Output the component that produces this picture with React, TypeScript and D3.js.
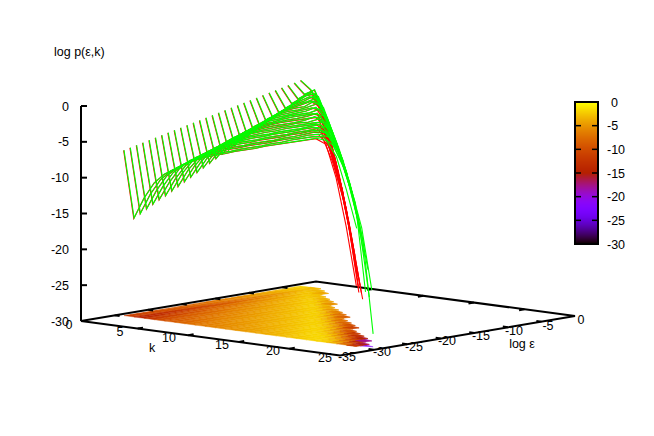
import React from "react";
import * as d3 from "d3";

const WIDTH = 654;
const HEIGHT = 436;

const logEps = [-29.5,-28.56,-27.62,-26.68,-25.74,-24.8,-23.86,-22.92,-21.98,-21.04,-20.1,-19.16,-18.22,-17.28,-16.34,-15.4,-14.46,-13.52,-12.58,-11.64,-10.7,-9.76,-8.82,-7.88,-6.94,-6,-5.06,-4.12,-3.18];

// log p for each log eps row, indexed by k = 0, 1, 2, ...
const greenRows: number[][] = [
  [-6.9,-16.2,-13.2,-10.9,-9.5,-8.6,-7.7,-7,-6.4,-5.9,-5.5,-5,-4.6,-4.2,-3.7,-3.3,-2.9,-2.5,-2.1,-1.7,-1.8,-3.9,-8.4,-13.5],
  [-6.7,-15.7,-12.8,-10.6,-9.2,-8.3,-7.4,-6.7,-6.1,-5.7,-5.3,-4.8,-4.4,-4,-3.5,-3.1,-2.6,-2.2,-1.8,-1.6,-2.6,-5.2,-9.5,-15.3,-28.2],
  [-6.5,-15.2,-12.4,-10.2,-8.9,-8,-7.2,-6.5,-5.9,-5.4,-5,-4.5,-4.1,-3.7,-3.2,-2.8,-2.4,-1.9,-1.6,-1.8,-3.9,-8.1,-13.5,-23.4],
  [-6.3,-14.7,-12,-9.9,-8.6,-7.7,-6.9,-6.2,-5.6,-5.2,-4.8,-4.3,-3.9,-3.5,-3,-2.6,-2.1,-1.6,-1.5,-3.1,-6.4,-10.8,-23],
  [-6.1,-14.2,-11.6,-9.5,-8.2,-7.4,-6.6,-5.9,-5.4,-4.9,-4.5,-4,-3.6,-3.2,-2.7,-2.3,-1.8,-1.5,-2.4,-5,-9.3,-14.4,-22.9],
  [-5.9,-13.8,-11.2,-9.2,-7.9,-7.1,-6.3,-5.7,-5.1,-4.7,-4.3,-3.8,-3.4,-3,-2.5,-2.1,-1.6,-2.1,-4.3,-8,-13,-20.4],
  [-5.7,-13.3,-10.7,-8.8,-7.6,-6.8,-6,-5.4,-4.9,-4.4,-4,-3.5,-3.1,-2.7,-2.2,-1.8,-1.7,-4,-7,-11.2,-18.7],
  [-5.5,-12.8,-10.3,-8.5,-7.3,-6.5,-5.8,-5.2,-4.6,-4.2,-3.8,-3.3,-2.9,-2.5,-2,-1.5,-2.8,-5.5,-9.4,-16.2],
  [-5.3,-12.3,-9.9,-8.1,-7,-6.2,-5.5,-4.9,-4.4,-3.9,-3.5,-3,-2.6,-2.2,-1.8,-2.1,-4.4,-8.4,-13.8],
  [-5.1,-11.8,-9.5,-7.8,-6.7,-5.9,-5.2,-4.6,-4.1,-3.7,-3.2,-2.8,-2.4,-2,-1.7,-3.3,-6.6,-11.3],
  [-4.9,-11.3,-9.1,-7.4,-6.4,-5.6,-5,-4.4,-3.9,-3.4,-3,-2.5,-2.2,-1.6,-2.8,-5.3,-9.6,-15.7],
  [-4.7,-10.8,-8.7,-7,-6,-5.3,-4.7,-4.1,-3.6,-3.2,-2.8,-2.3,-1.6,-2.2,-4.5,-8.2,-13.2],
  [-4.5,-10.3,-8.3,-6.7,-5.7,-5,-4.4,-3.8,-3.3,-2.9,-2.5,-2.1,-1.8,-3.9,-7.2,-11.5],
  [-4.3,-9.8,-7.9,-6.4,-5.4,-4.7,-4.1,-3.6,-3.1,-2.7,-2.2,-1.6,-3.1,-6.1,-9.7],
  [-4.1,-9.3,-7.5,-6,-5.1,-4.4,-3.9,-3.3,-2.8,-2.4,-2,-2.1,-4.9,-8.3],
  [-3.9,-8.9,-7.1,-5.7,-4.8,-4.1,-3.6,-3,-2.6,-2.2,-1.5,-4,-7.3,-11.6],
  [-3.7,-8.4,-6.6,-5.3,-4.5,-3.8,-3.3,-2.8,-2.3,-1.6,-3,-6.1,-10.1],
  [-3.5,-7.9,-6.2,-5,-4.1,-3.5,-3,-2.5,-2,-2.1,-5,-8.8],
  [-3.3,-7.4,-5.8,-4.6,-3.8,-3.2,-2.8,-2.2,-1.5,-4,-7.4],
  [-3.1,-6.9,-5.4,-4.3,-3.5,-2.9,-2.5,-1.5,-3,-6.6],
  [-2.9,-6.4,-5,-3.9,-3.2,-2.6,-1.9,-2.3,-5.6],
  [-2.7,-5.9,-4.6,-3.6,-2.9,-2.3,-1.6,-4.2,-7.8],
  [-2.5,-5.4,-4.2,-3.2,-2.6,-1.7,-3.1,-6.8],
  [-2.3,-4.9,-3.8,-2.9,-2.1,-2.4,-5.7],
  [-2.1,-4.4,-3.4,-2.3,-1.8,-5.1],
  [-1.9,-3.9,-2.9,-1.9,-4.3],
  [-1.7,-3.4,-2.4,-2.7,-6.1],
  [-1.5,-2.9,-2.1,-5.2],
  [-1.3,-2.4,-4.4],
];

// Highest k reached by each row of the red surface, and that surface's last values.
const redLastK = [23,23,22,21,21,20,19,19,18,17,17,16,15,14,13,13,12,11,10,9,8,8,7,6,5,4,4,3,2];
const redTails: number[][] = [
  [-2.3,-6.8,-13.4,-21.5],
  [-4.8,-9.4,-16.2,-23.5],
  [-3,-7.2,-13.7,-22.9],
  [-5.7,-11.1,-18.1],
  [-4.2,-8.9,-15.6,-23.4],
  [-3.1,-7.3,-13.4,-21.5],
  [-6.3,-11.5,-18.2],
  [-4.3,-9,-15.3,-23.2],
  [-2.6,-7.2,-13.4,-21.6],
  [-5.4,-10.7,-18],
  [-4.2,-8.6,-15.2,-24.4],
  [-2.4,-7.1,-12.9,-20.5],
  [-5.7,-11,-17.8],
  [-4,-9.1,-15],
  [-2.2,-7.3,-12.7],
  [-5.4,-10.8,-17.5],
  [-3.5,-8.9,-15.1],
  [-2.3,-7.1,-12.9],
  [-5.3,-10.7],
  [-3.4,-9.2],
  [-2.5,-7.4],
  [-5.1,-10.8],
  [-3.5,-9.2],
  [-2.5,-7.3],
  [-1.8,-5.7],
  [-1.9,-4.5],
  [-2.8,-7.2],
  [-2.1,-5.4],
  [-2.4,-4.5],
];

const zTicks = [0,-5,-10,-15,-20,-25,-30];
const kTicks = [0,5,10,15,20,25];
const epsTicks = [0,-5,-10,-15,-20,-25,-30,-35];
const cbTicks = [0,-5,-10,-15,-20,-25,-30];

const kLabels: [string, number, number][] = [["0",69,324],["5",120,331],["10",169,337],["15",222,344],["20",273,350],["25",325,357]];
const epsLabels: [string, number, number][] = [["-35",347,356],["-30",382,351],["-25",414,346],["-20",447,340],["-15",481,335],["-10",514,330],["-5",548,325],["0",581,319]];

// projection of gnuplot's 3d box
const kX = d3.scaleLinear().domain([-0.6, 25]).range([0, 259]);
const kY = d3.scaleLinear().domain([-0.6, 25]).range([0, 34.4]);
const eX = d3.scaleLinear().domain([-35, 0]).range([0, 235]);
const eY = d3.scaleLinear().domain([-35, 0]).range([0, -39.4]);
const zY = d3.scaleLinear().domain([-30, 0]).range([0, -215]);
const ORIGIN: [number, number] = [81, 321];

const project = (k: number, e: number, z: number): [number, number] => [
  ORIGIN[0] + kX(k) + eX(e),
  ORIGIN[1] + kY(k) + eY(e) + zY(z),
];

// gnuplot's default pm3d palette (rgbformulae 7,5,15)
const palette = (z: number) => {
  const t = Math.max(0, Math.min(1, (z + 30) / 30));
  const b = Math.max(0, Math.sin(2 * Math.PI * t));
  return d3.rgb(Math.sqrt(t) * 255, t * t * t * 255, b * 255).formatHex();
};

const line = d3.line<[number, number]>();

const meshPaths = (rows: number[][]) =>
  rows.map((row, i) => line(row.map((z, k) => project(k, logEps[i], z)))!);

const redRows = greenRows.map((row, i) => {
  const tail = redTails[i];
  return [...row.slice(0, redLastK[i] + 1 - tail.length), ...tail];
});

function baseCells() {
  const cells: { d: string; c: string }[] = [];
  // thin spike for the end of every row
  greenRows.forEach((row, i) => {
    const K = row.length - 1;
    if (K < 1) return;
    const lo = logEps[Math.max(0, i - 1)];
    const hi = logEps[Math.min(logEps.length - 1, i + 1)];
    const mid = logEps[i];
    const pts: [number, number][] = [
      project(K - 1, (lo + mid) / 2, -30),
      project(K, mid, -30),
      project(K - 1, (hi + mid) / 2, -30),
    ];
    cells.push({ d: line(pts)! + "Z", c: palette((row[K] + row[K - 1]) / 2) });
  });
  for (let i = 0; i + 1 < greenRows.length; i++) {
    const a = greenRows[i];
    const b = greenRows[i + 1];
    const n = Math.min(a.length, b.length);
    for (let k = 0; k + 1 < n; k++) {
      const avg = (a[k] + a[k + 1] + b[k] + b[k + 1]) / 4;
      const pts: [number, number][] = [
        project(k, logEps[i], -30),
        project(k + 1, logEps[i], -30),
        project(k + 1, logEps[i + 1], -30),
        project(k, logEps[i + 1], -30),
      ];
      cells.push({ d: line(pts)! + "Z", c: palette(avg) });
    }
  }
  return cells;
}

const FONT = '"Liberation Sans", Arial, sans-serif';
const EDGE = 2;

export default function App() {
  const cells = baseCells();
  const red = meshPaths(redRows);
  const green = meshPaths(greenRows);
  const corners: [number, number][] = [
    project(-0.6, -35, -30),
    project(25, -35, -30),
    project(25, 0, -30),
    project(-0.6, 0, -30),
  ];
  const cbY = d3.scaleLinear().domain([0, -30]).range([102, 244]);
  const strips = d3.range(0, 142);
  return (
    <svg
      width={WIDTH}
      height={HEIGHT}
      viewBox={`0 0 ${WIDTH} ${HEIGHT}`}
      style={{ position: "absolute", left: 0, top: 0, background: "#fff" }}
      fontFamily={FONT}
      fontSize={12.5}
    >
      {cells.map((c, i) => (
        <path key={i} d={c.d} fill={c.c} stroke={c.c} strokeWidth={0.4} />
      ))}
      <path d={line(corners)! + "Z"} fill="none" stroke="#000" strokeWidth={EDGE} />
      <path d={`M${ORIGIN[0]},${ORIGIN[1]}V${ORIGIN[1] + zY(0)}`} stroke="#000" strokeWidth={EDGE} fill="none" />
      {zTicks.map((z) => {
        const y = ORIGIN[1] + zY(z);
        return (
          <g key={z}>
            <line x1={ORIGIN[0]} x2={ORIGIN[0] + 6} y1={y} y2={y} stroke="#000" strokeWidth={EDGE} />
            <text x={69} y={y + 4.5} textAnchor="end">{z}</text>
          </g>
        );
      })}
      {kTicks.slice(1, 5).map((k) => {
        const a = project(k, -35, -30);
        const b = project(k, -34.2, -30);
        const c = project(k, 0, -30);
        const d = project(k, -0.8, -30);
        return (
          <g key={k} stroke="#000" strokeWidth={EDGE}>
            <line x1={a[0]} y1={a[1]} x2={b[0]} y2={b[1]} />
            <line x1={c[0]} y1={c[1]} x2={d[0]} y2={d[1]} />
          </g>
        );
      })}
      {epsTicks.slice(1, 7).map((e) => {
        const a = project(25, e, -30);
        const b = project(24.5, e, -30);
        const c = project(-0.6, e, -30);
        const d = project(-0.1, e, -30);
        return (
          <g key={e} stroke="#000" strokeWidth={EDGE}>
            <line x1={a[0]} y1={a[1]} x2={b[0]} y2={b[1]} />
            <line x1={c[0]} y1={c[1]} x2={d[0]} y2={d[1]} />
          </g>
        );
      })}
      <g transform="translate(-0.35,0.35)">
        {red.map((d, i) => (
          <path key={i} d={d} fill="none" stroke="#ff0000" strokeWidth={1.1} />
        ))}
      </g>
      {green.map((d, i) => (
        <path key={i} d={d} fill="none" stroke="#00ff00" strokeWidth={1.1} />
      ))}
      {kLabels.map(([t, x, y]) => (
        <text key={"k" + t} x={x} y={y + 4.5} textAnchor="middle">{t}</text>
      ))}
      {epsLabels.map(([t, x, y]) => (
        <text key={"e" + t} x={x} y={y + 4.5} textAnchor="middle">{t}</text>
      ))}
      <text x={54} y={56}>log p(ε,k)</text>
      <text x={152} y={352} textAnchor="middle">k</text>
      <text x={522} y={348} textAnchor="middle">log ε</text>
      {strips.map((s) => (
        <rect key={s} x={575} y={102 + s} width={23} height={1.2} fill={palette(-(s / 141) * 30)} />
      ))}
      <rect x={575} y={102} width={23} height={142} fill="none" stroke="#000" strokeWidth={EDGE} />
      {cbTicks.map((t) => {
        const y = cbY(t);
        return (
          <g key={t}>
            {t !== 0 && t !== -30 && (
              <g stroke="#000" strokeWidth={1.5}>
                <line x1={575} x2={581} y1={y} y2={y} />
                <line x1={592} x2={598} y1={y} y2={y} />
              </g>
            )}
            <text x={t === 0 ? 611 : 607} y={y + 4.5}>{t}</text>
          </g>
        );
      })}
    </svg>
  );
}
